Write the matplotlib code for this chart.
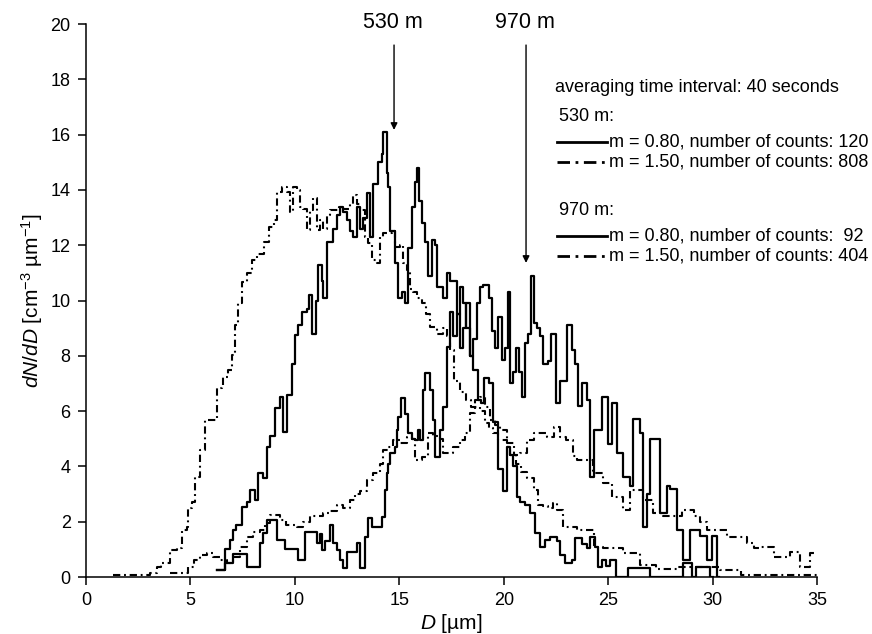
import matplotlib
matplotlib.use("Agg")
import matplotlib.pyplot as plt
from matplotlib.lines import Line2D

plt.rcParams['font.family'] = ['Liberation Sans', 'DejaVu Sans']
plt.rcParams['mathtext.fontset'] = 'custom'
plt.rcParams['mathtext.rm'] = 'Liberation Sans'
plt.rcParams['mathtext.it'] = 'Liberation Sans:italic'

# step positions (D, um) and dN/dD values
# 530 m, m = 0.80 (solid)
a530_m080 = [
    (6.26, 0.25), (6.65, 1.0), (6.9, 1.34), (7.05, 1.7), (7.2, 1.88), (7.45, 2.54),
    (7.69, 2.7), (7.85, 3.15), (8.09, 2.8), (8.25, 3.75), (8.49, 3.58), (8.65, 4.7),
    (8.81, 5.1), (9.05, 6.1), (9.29, 6.5), (9.45, 5.25), (9.61, 6.6), (9.85, 7.7),
    (10.0, 8.75), (10.17, 9.1), (10.33, 9.6), (10.57, 9.7), (10.69, 10.2), (10.84, 8.8),
    (11.0, 10.0), (11.12, 11.3), (11.28, 10.7), (11.36, 10.1), (11.52, 12.1), (11.84, 12.6),
    (12.0, 13.1), (12.16, 13.4), (12.32, 13.2), (12.48, 12.9), (12.64, 12.5), (12.8, 12.3),
    (12.96, 13.4), (13.12, 12.6), (13.28, 13.0), (13.44, 13.9), (13.6, 12.3), (13.76, 14.2),
    (14.0, 15.0), (14.15, 15.3), (14.23, 16.1), (14.39, 14.6), (14.47, 14.1), (14.55, 12.5),
    (14.79, 11.35), (14.95, 10.1), (15.11, 10.3), (15.27, 9.9), (15.43, 11.9), (15.59, 13.4),
    (15.75, 14.3), (15.83, 14.8), (15.96, 13.6), (16.07, 12.8), (16.23, 12.1), (16.39, 10.9),
    (16.55, 12.2), (16.71, 12.0), (16.79, 10.5), (17.1, 10.1), (17.27, 11.0), (17.43, 10.7),
    (17.59, 10.7), (17.75, 9.5), (17.9, 10.5), (18.05, 9.9), (18.2, 9.0), (18.4, 8.0),
    (18.55, 7.5), (18.75, 6.4), (18.9, 6.3), (19.05, 7.2), (19.3, 7.0), (19.5, 5.6),
    (19.74, 3.9), (19.98, 3.1), (20.14, 4.7), (20.3, 4.4), (20.46, 4.0), (20.62, 2.9),
    (20.78, 2.7), (21.02, 2.6), (21.26, 2.3), (21.5, 1.6), (21.74, 1.1), (21.98, 1.34),
    (22.2, 1.46), (22.54, 1.3), (22.7, 0.8), (22.93, 0.5), (23.25, 0.6), (23.41, 1.4),
    (23.73, 1.2), (23.97, 1.05), (24.13, 1.45), (24.37, 1.1), (24.53, 0.37), (24.7, 0.6),
    (24.9, 0.4), (25.1, 0.6), (25.4, 0.0), (25.95, 0.32), (27.0, 0.0), (28.6, 0.5),
    (29.0, 0.0), (29.2, 0.37), (29.9, 0.0), (30.0, 0.0),
]

# 530 m, m = 1.50 (dash-dot)
a530_m150 = [
    (1.3, 0.08), (3.06, 0.15), (3.38, 0.37), (3.6, 0.5), (4.02, 0.98), (4.34, 1.05),
    (4.58, 1.7), (4.82, 1.82), (4.9, 2.5), (5.06, 2.72), (5.22, 3.63), (5.46, 4.6),
    (5.7, 5.68), (6.26, 6.82), (6.5, 6.94), (6.58, 7.24), (6.82, 7.49), (6.98, 8.03),
    (7.13, 9.11), (7.29, 9.9), (7.45, 10.68), (7.7, 11.0), (7.94, 11.46), (8.18, 11.7),
    (8.5, 12.13), (8.74, 12.67), (8.98, 12.9), (9.13, 13.94), (9.37, 14.1), (9.61, 13.94),
    (9.77, 13.2), (9.93, 14.1), (10.09, 14.0), (10.25, 13.4), (10.41, 13.3), (10.57, 12.55),
    (10.73, 13.27), (10.89, 13.7), (11.04, 12.55), (11.2, 12.9), (11.36, 12.6), (11.52, 13.1),
    (11.7, 13.27), (12.1, 13.4), (12.3, 13.3), (12.64, 13.5), (12.8, 13.8), (12.96, 13.5),
    (13.1, 13.27), (13.36, 12.3), (13.52, 12.08), (13.68, 11.46), (13.92, 11.35), (14.07, 12.3),
    (14.23, 12.43), (14.63, 12.5), (14.79, 11.95), (15.03, 12.0), (15.19, 11.35), (15.35, 11.1),
    (15.51, 10.4), (15.67, 10.3), (15.83, 10.1), (16.07, 9.9), (16.3, 9.5), (16.47, 9.05),
    (16.79, 8.8), (17.1, 9.0), (17.27, 8.7), (17.43, 8.2), (17.6, 7.1), (17.9, 6.7),
    (18.2, 6.4), (18.45, 6.16), (18.85, 6.0), (19.1, 5.56), (19.3, 5.4), (19.5, 5.2),
    (19.75, 4.95), (20.15, 4.7), (20.3, 4.4), (20.6, 4.1), (20.85, 3.8), (21.1, 3.57),
    (21.45, 3.15), (21.66, 2.6), (21.9, 2.57), (22.1, 2.5), (22.37, 2.67), (22.53, 2.43),
    (22.85, 1.82), (23.5, 1.7), (24.3, 1.1), (24.77, 1.04), (25.73, 0.86), (26.53, 0.43),
    (27.3, 0.3), (28.36, 0.37), (29.7, 0.37), (30.36, 0.25), (31.36, 0.07), (35.0, 0.07),
]

# 970 m, m = 0.80 (solid)
a970_m080 = [
    (6.26, 0.25), (6.65, 0.5), (7.05, 0.85), (7.69, 0.37), (8.33, 1.23), (8.49, 1.6),
    (8.65, 2.06), (9.13, 1.34), (9.53, 1.0), (10.17, 0.6), (10.49, 1.64), (11.05, 1.23),
    (11.2, 1.55), (11.28, 0.98), (11.45, 1.3), (11.68, 1.88), (11.84, 1.23), (12.0, 0.98),
    (12.16, 0.6), (12.32, 0.32), (12.48, 0.92), (12.96, 1.23), (13.12, 0.32), (13.36, 1.46),
    (13.52, 2.13), (13.68, 1.82), (14.16, 2.18), (14.32, 3.15), (14.4, 3.75), (14.48, 4.1),
    (14.56, 4.48), (14.8, 4.7), (14.87, 5.3), (14.95, 5.8), (15.1, 6.46), (15.27, 5.9),
    (15.43, 5.2), (15.6, 5.0), (15.75, 4.95), (15.9, 5.3), (16.0, 4.95), (16.15, 6.76),
    (16.23, 7.37), (16.47, 6.76), (16.63, 5.68), (16.71, 4.35), (16.95, 5.3), (17.11, 6.16),
    (17.27, 8.33), (17.43, 9.6), (17.59, 8.7), (17.75, 9.5), (17.9, 8.3), (18.05, 9.0),
    (18.2, 9.9), (18.4, 8.0), (18.55, 8.6), (18.7, 9.9), (18.85, 10.5), (19.0, 10.56),
    (19.3, 10.1), (19.45, 8.9), (19.6, 8.3), (19.75, 9.4), (19.9, 7.85), (20.05, 8.3),
    (20.2, 10.3), (20.3, 7.0), (20.45, 7.4), (20.6, 8.3), (20.75, 7.4), (20.9, 6.5),
    (21.0, 8.45), (21.15, 8.8), (21.3, 10.9), (21.45, 9.2), (21.6, 9.0), (21.75, 8.7),
    (21.9, 7.7), (22.1, 7.8), (22.25, 8.8), (22.5, 6.3), (22.7, 7.1), (23.05, 9.1),
    (23.25, 8.2), (23.4, 7.7), (23.55, 6.2), (23.75, 7.0), (23.97, 6.4), (24.13, 3.6),
    (24.3, 5.3), (24.53, 5.3), (24.7, 6.5), (25.01, 4.8), (25.2, 6.3), (25.41, 4.5),
    (25.73, 3.6), (26.05, 3.3), (26.2, 5.7), (26.53, 5.2), (26.68, 1.8), (26.85, 3.0),
    (27.0, 5.0), (27.48, 2.3), (27.8, 3.3), (27.96, 3.2), (28.28, 1.7), (28.6, 0.6),
    (28.92, 1.7), (29.4, 1.5), (29.72, 0.6), (29.96, 1.5), (30.2, 0.0), (30.3, 0.0),
]

# 970 m, m = 1.50 (dash-dot)
a970_m150 = [
    (4.0, 0.15), (4.9, 0.37), (5.15, 0.6), (5.46, 0.8), (5.78, 0.86), (6.1, 0.74),
    (6.42, 0.6), (6.74, 0.5), (7.05, 0.74), (7.37, 1.1), (7.69, 1.46), (8.0, 1.64),
    (8.33, 1.7), (8.57, 1.94), (8.81, 2.24), (9.29, 2.06), (9.6, 1.88), (10.1, 1.82),
    (10.4, 2.0), (10.73, 2.2), (11.36, 2.3), (11.68, 2.4), (12.0, 2.6), (12.32, 2.5),
    (12.64, 2.78), (12.88, 3.0), (13.12, 3.1), (13.44, 3.5), (13.76, 3.75), (14.07, 4.1),
    (14.23, 4.6), (14.47, 4.7), (14.71, 4.95), (15.03, 4.85), (15.35, 5.07), (15.59, 5.0),
    (15.75, 4.23), (16.07, 4.35), (16.39, 5.2), (16.63, 5.1), (16.95, 5.0), (17.11, 4.47),
    (17.35, 4.47), (17.59, 4.71), (17.91, 4.95), (18.15, 5.2), (18.39, 5.92), (18.63, 6.4),
    (18.87, 6.5), (19.1, 6.16), (19.35, 5.68), (19.59, 5.5), (19.83, 5.3), (20.15, 4.83),
    (20.47, 4.4), (20.79, 4.47), (21.11, 4.95), (21.43, 5.2), (21.75, 5.2), (22.07, 5.07),
    (22.39, 5.44), (22.7, 5.08), (23.0, 4.95), (23.33, 4.36), (23.5, 4.24), (24.29, 3.76),
    (24.77, 3.4), (25.17, 2.91), (25.73, 2.43), (26.05, 3.16), (26.68, 2.8), (27.16, 2.31),
    (27.64, 2.19), (28.52, 2.43), (29.1, 2.19), (29.4, 2.0), (29.72, 1.7), (30.68, 1.46),
    (31.64, 1.22), (32.0, 1.04), (32.28, 1.1), (32.92, 0.74), (33.72, 0.92), (34.2, 0.37),
    (34.68, 0.86), (35.0, 0.86),
]

legend_labels = ["m = 0.80, number of counts: 120", "m = 1.50, number of counts: 808",
                 "m = 0.80, number of counts:  92", "m = 1.50, number of counts: 404"]

solid = dict(color='k', lw=1.6, linestyle='-')
dashdot = dict(color='k', lw=1.5, linestyle=(0, (3.5, 1.8, 0.9, 1.8)))

fig = plt.figure(figsize=(8.72, 6.34), dpi=100)
ax = fig.add_axes([0.0986, 0.0899, 0.8383, 0.8722])

for series, style in [(a530_m150, dashdot), (a970_m150, dashdot),
                      (a530_m080, solid), (a970_m080, solid)]:
    xs = [p[0] for p in series]
    ys = [p[1] for p in series]
    ax.step(xs, ys, where='post', **style)

ax.set_xlim(0, 35)
ax.set_ylim(0, 20)
ax.set_xticks(range(0, 36, 5))
ax.set_yticks(range(0, 21, 2))
ax.spines['top'].set_visible(False)
ax.spines['right'].set_visible(False)
for s in ['left', 'bottom']:
    ax.spines[s].set_linewidth(1.1)
ax.tick_params(direction='out', length=6, width=1.1, labelsize=13, pad=5)

ax.set_xlabel(r'$D$ [µm]', fontsize=15, labelpad=2)
ax.set_ylabel(r'$dN/dD$ [cm$^{-3}$ µm$^{-1}$]', fontsize=15, labelpad=4)

# altitude markers with arrows
for label, xpos, ytip in [("530 m", 14.75, 16.17), ("970 m", 21.07, 11.36)]:
    ax.annotate('', xy=(xpos, ytip), xytext=(xpos, 19.24),
                arrowprops=dict(arrowstyle='-|>', lw=1.0, color='k',
                                mutation_scale=10, shrinkA=0, shrinkB=0),
                annotation_clip=False)
    ax.text(xpos - 0.05, 20.07, label, ha='center', va='center', fontsize=15.5,
            clip_on=False)

# legend block
tr = ax.transAxes
ax.text(0.641, 0.886, "averaging time interval: 40 seconds", transform=tr,
        fontsize=13, va='center')
ax.text(0.647, 0.832, "530 m:", transform=tr, fontsize=13, va='center')
ax.text(0.647, 0.662, "970 m:", transform=tr, fontsize=13, va='center')
rows = [(0.787, solid), (0.750, dashdot), (0.617, solid), (0.580, dashdot)]
for (yy, style), lab in zip(rows, legend_labels):
    st = dict(style)
    st['lw'] = 2.0
    if st['linestyle'] != '-':
        st['linestyle'] = (0, (4.5, 2, 1, 2))
    ax.add_line(Line2D([0.644, 0.713], [yy, yy], transform=tr, **st))
    ax.text(0.716, yy, lab, transform=tr, fontsize=13, va='center')

fig.savefig('out.png', dpi=100)
